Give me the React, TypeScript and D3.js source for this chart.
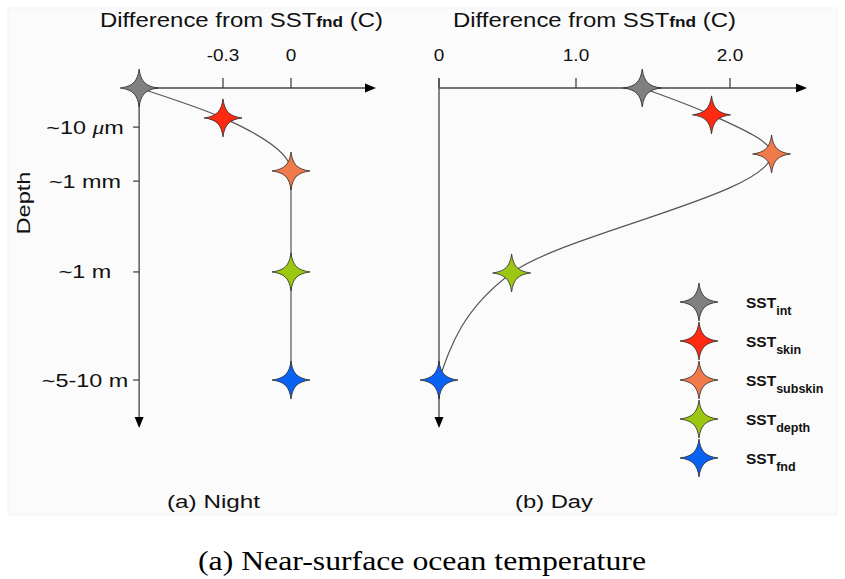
import * as d3 from "d3";

// profile levels, top (interface) to bottom (foundation)
const levelNames = ["int", "skin", "subskin", "depth", "fnd"];
const levelColors = ["#808080", "#ff2a12", "#f07a4c", "#9cc814", "#0a62f2"];

// depth axis is schematic: 0 = surface, 100 = arrow tip
const depthTickValues = [11.5, 27.4, 54.1, 85.9];
const depthTickLabels = ["~10 \u03bcm", "~1 mm", "~1 m", "~5-10 m"];

// (a) night: cool skin, isothermal below
const nightDiff = [-0.67, -0.3, 0, 0, 0];
const nightDepth = [0, 8.8, 24.4, 54.1, 85.9];
const nightTicks = [-0.3, 0];
const nightTickLabels = ["-0.3", "0"];

// (b) day: diurnal warm layer
const dayDiff = [1.43, 1.88, 2.27, 0.53, 0];
const dayDepth = [0, 7.9, 19.4, 54.4, 85.9];
const dayTicks = [0, 1.0, 2.0];
const dayTickLabels = ["0", "1.0", "2.0"];

const SANS = "'Liberation Sans', Arial, sans-serif";
const AXIS = "#444";

const y = d3.scaleLinear().domain([0, 100]).range([88, 428]);

// four-point sparkle: thin spikes, small body
function starPath(r: number, a: number, b: number) {
  return (
    `M0,${-r} ` +
    `C${a},${-b} ${b},${-a} ${r},0 ` +
    `C${b},${a} ${a},${b} 0,${r} ` +
    `C${-a},${b} ${-b},${a} ${-r},0 ` +
    `C${-b},${-a} ${-a},${-b} 0,${-r} Z`
  );
}
const STAR = starPath(19, 1.7, 6.4);

function Star({ x, y, fill }: { x: number; y: number; fill: string }) {
  return (
    <path
      d={STAR}
      transform={`translate(${x},${y})`}
      fill={fill}
      stroke="#2a2a2a"
      strokeWidth={0.8}
      strokeLinejoin="round"
    />
  );
}

function Panel({
  x,
  diff,
  depth,
  domainEnd,
  ticks,
  tickLabels,
  axisTop,
  title,
  depthTicks,
}: {
  x: d3.ScaleLinear<number, number>;
  diff: number[];
  depth: number[];
  domainEnd: [number, number];
  ticks: number[];
  tickLabels: string[];
  axisTop: number;
  title: number;
  depthTicks: boolean;
}) {
  const x0 = x(domainEnd[0]);
  const x1 = x(domainEnd[1]);
  const yTop = y(0);
  const yEnd = y(100);
  const pts = diff.map((d, i) => [x(d), y(depth[i])] as [number, number]);
  const line = d3
    .line<[number, number]>()
    .x((d) => d[0])
    .y((d) => d[1])
    .curve(d3.curveMonotoneY);

  return (
    <g>
      <text x={title} y={27} fontFamily={SANS} fontSize={19.5} fill="#111" textLength={283} lengthAdjust="spacingAndGlyphs">
        Difference from SST
        <tspan fontSize={14} fontWeight="bold">fnd</tspan> (C)
      </text>

      {/* x axis with arrow */}
      <line x1={x0} x2={x1 - 6} y1={yTop} y2={yTop} stroke={AXIS} strokeWidth={1.3} />
      <path d={`M${x1},${yTop} L${x1 - 11},${yTop - 4.5} L${x1 - 11},${yTop + 4.5} Z`} fill="#000" />
      {ticks.map((t, i) => (
        <g key={i}>
          <line x1={x(t)} x2={x(t)} y1={78} y2={yTop} stroke={AXIS} strokeWidth={1.3} />
          <text
            transform={`translate(${x(t)},61) scale(1.15,1)`}
            textAnchor="middle"
            fontFamily={SANS}
            fontSize={16.5}
            fill="#111"
          >
            {tickLabels[i]}
          </text>
        </g>
      ))}

      {/* depth axis with arrow */}
      <line x1={x0} x2={x0} y1={axisTop} y2={yEnd - 6} stroke={AXIS} strokeWidth={1.3} />
      <path d={`M${x0},${yEnd} L${x0 - 4.5},${yEnd - 11} L${x0 + 4.5},${yEnd - 11} Z`} fill="#000" />
      {depthTicks &&
        depthTickValues.map((v, i) => {
          const [pre, post] = depthTickLabels[i].split("\u03bc");
          return (
            <g key={i}>
              <line x1={x0 - 6} x2={x0} y1={y(v)} y2={y(v)} stroke={AXIS} strokeWidth={1.3} />
              <text
                transform={`translate(85,${y(v) + 6.5}) scale(1.3,1)`}
                textAnchor="middle"
                fontFamily={SANS}
                fontSize={18}
                fill="#111"
              >
                {pre}
                {post !== undefined && (
                  <tspan fontFamily="'Liberation Serif', serif" fontStyle="italic">
                    {"\u03bc"}
                  </tspan>
                )}
                {post ?? ""}
              </text>
            </g>
          );
        })}

      <path d={line(pts) ?? ""} fill="none" stroke="#555" strokeWidth={1.2} />
      {pts.map((p, i) => (
        <Star key={levelNames[i]} x={p[0]} y={p[1]} fill={levelColors[i]} />
      ))}
    </g>
  );
}

export default function App() {
  const xNight = d3.scaleLinear().domain([-0.3, 0]).range([223, 291]);
  const xDay = d3.scaleLinear().domain([0, 1, 2]).range([439, 576, 730]);
  const legendY = d3.scalePoint<string>().domain(levelNames).range([302, 458]);

  return (
    <svg
      width={845}
      height={579}
      viewBox="0 0 845 579"
      style={{ position: "absolute", left: 0, top: 0, background: "#fff" }}
    >
      <rect x={8} y={8} width={829} height={507} fill="#fbfbfb" stroke="#f3f3f3" strokeWidth={1} />

      <Panel
        x={xNight}
        diff={nightDiff}
        depth={nightDepth}
        domainEnd={[-0.67, 0.375]}
        ticks={nightTicks}
        tickLabels={nightTickLabels}
        axisTop={88}
        title={100}
        depthTicks={true}
      />
      <Panel
        x={xDay}
        diff={dayDiff}
        depth={dayDepth}
        domainEnd={[0, 2.5]}
        ticks={dayTicks}
        tickLabels={dayTickLabels}
        axisTop={78}
        title={453}
        depthTicks={false}
      />

      <text
        transform="translate(30,203) rotate(-90)"
        textAnchor="middle"
        fontFamily={SANS}
        fontSize={18}
        fill="#111"
        textLength={63}
        lengthAdjust="spacingAndGlyphs"
      >
        Depth
      </text>

      {/* legend */}
      {levelNames.map((n, i) => (
        <g key={n}>
          <Star x={699} y={legendY(n)!} fill={levelColors[i]} />
          <text x={746} y={legendY(n)! + 6} fontFamily={SANS} fontSize={15.5} fontWeight="bold" fill="#111">
            SST
            <tspan fontSize={12.5} dy={7}>
              {n}
            </tspan>
          </text>
        </g>
      ))}

      <text x={167} y={508} fontFamily={SANS} fontSize={17.5} fill="#111" textLength={93} lengthAdjust="spacingAndGlyphs">
        (a) Night
      </text>
      <text x={515} y={508} fontFamily={SANS} fontSize={17.5} fill="#111" textLength={78} lengthAdjust="spacingAndGlyphs">
        (b) Day
      </text>

      <text
        x={198}
        y={570}
        fontFamily="'Liberation Serif', 'Times New Roman', serif"
        fontSize={27}
        fill="#000"
        textLength={448}
        lengthAdjust="spacingAndGlyphs"
      >
        (a) Near-surface ocean temperature
      </text>
    </svg>
  );
}
